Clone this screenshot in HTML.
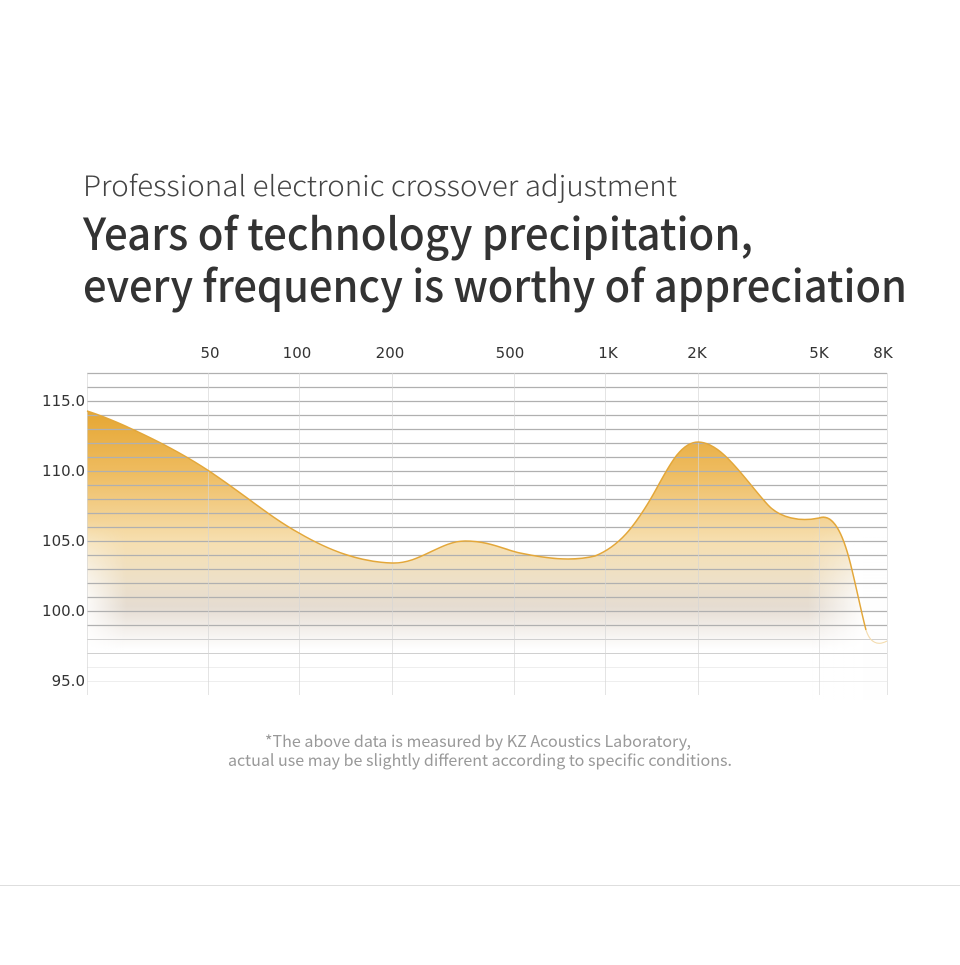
<!DOCTYPE html>
<html><head><meta charset="utf-8"><style>
html,body{margin:0;padding:0;background:#fff;}
body{width:960px;height:960px;overflow:hidden;}
</style></head><body>
<svg width="960" height="960" viewBox="0 0 960 960" xmlns="http://www.w3.org/2000/svg">
<defs>
<linearGradient id="g" gradientUnits="userSpaceOnUse" x1="0" y1="410" x2="0" y2="650">
<stop offset="0" stop-color="#e5a632"/>
<stop offset="0.25" stop-color="#eebb5e"/>
<stop offset="0.55" stop-color="#f6dfb0"/>
<stop offset="0.72" stop-color="#ede0c9"/>
<stop offset="0.82" stop-color="#e5dcd1"/>
<stop offset="0.95" stop-color="#f8f6f4"/>
<stop offset="1" stop-color="#ffffff"/>
</linearGradient>
<linearGradient id="side" gradientUnits="userSpaceOnUse" x1="87" y1="0" x2="887" y2="0">
<stop offset="0" stop-color="#fff" stop-opacity="0.85"/>
<stop offset="0.05" stop-color="#fff" stop-opacity="0"/>
<stop offset="0.9" stop-color="#fff" stop-opacity="0"/>
<stop offset="0.97" stop-color="#fff" stop-opacity="0.9"/>
</linearGradient>
<linearGradient id="vm" gradientUnits="userSpaceOnUse" x1="0" y1="520" x2="0" y2="600">
<stop offset="0" stop-color="#000"/>
<stop offset="1" stop-color="#fff"/>
</linearGradient>
<mask id="m"><rect x="0" y="0" width="960" height="960" fill="url(#vm)"/></mask>
</defs>
<text x="83" y="196" font-family="'Noto Sans CJK SC','Liberation Sans',sans-serif" font-weight="300" font-size="28" fill="#444" textLength="594" lengthAdjust="spacingAndGlyphs">Professional electronic crossover adjustment</text>
<text x="83" y="250" font-family="'Noto Sans CJK SC','Liberation Sans',sans-serif" font-weight="500" font-size="44" fill="#333" textLength="670" lengthAdjust="spacingAndGlyphs">Years of technology precipitation,</text>
<text x="83" y="302" font-family="'Noto Sans CJK SC','Liberation Sans',sans-serif" font-weight="500" font-size="44" fill="#333" textLength="824" lengthAdjust="spacingAndGlyphs">every frequency is worthy of appreciation</text>

<g font-family="'DejaVu Sans','Liberation Sans',sans-serif" font-size="15" fill="#333" text-anchor="middle">
<text x="210" y="358">50</text><text x="297" y="358">100</text><text x="390" y="358">200</text>
<text x="510" y="358">500</text><text x="608" y="358">1K</text><text x="697" y="358">2K</text>
<text x="819" y="358">5K</text><text x="883" y="358">8K</text>
</g>
<g font-family="'DejaVu Sans','Liberation Sans',sans-serif" font-size="15" fill="#333" text-anchor="end">
<text x="85" y="406">115.0</text><text x="85" y="476">110.0</text><text x="85" y="546">105.0</text>
<text x="85" y="616">100.0</text><text x="85" y="686">95.0</text>
</g>

<path d="M87,411 C115,420 170,445 209,471 C245,495 270,517 299,533 C330,551 360,562 392,563 C420,564 440,541 465,541 C490,541 505,550 520,553 C545,558 570,562 595,556 C620,546 635,525 650,500 C665,475 678,442 698,442 C722,442 745,480 768,505 C780,518 800,522 819,518 C835,512 845,540 852,570 C860,605 866,640 876,643 C881,644 885,642 887,640 L887,700 L87,700 Z" fill="url(#g)"/>
<rect x="87" y="400" width="800" height="300" fill="url(#side)" mask="url(#m)"/>

<g stroke="#b0b0b0" stroke-width="1.3">
<line x1="87" y1="373.5" x2="887" y2="373.5"/><line x1="87" y1="387.5" x2="887" y2="387.5"/>
<line x1="87" y1="401.5" x2="887" y2="401.5"/><line x1="87" y1="415.5" x2="887" y2="415.5"/>
<line x1="87" y1="429.5" x2="887" y2="429.5"/><line x1="87" y1="443.5" x2="887" y2="443.5"/>
<line x1="87" y1="457.5" x2="887" y2="457.5"/><line x1="87" y1="471.5" x2="887" y2="471.5"/>
<line x1="87" y1="485.5" x2="887" y2="485.5"/><line x1="87" y1="499.5" x2="887" y2="499.5"/>
<line x1="87" y1="513.5" x2="887" y2="513.5"/><line x1="87" y1="527.5" x2="887" y2="527.5"/>
<line x1="87" y1="541.5" x2="887" y2="541.5"/><line x1="87" y1="555.5" x2="887" y2="555.5"/>
<line x1="87" y1="569.5" x2="887" y2="569.5"/><line x1="87" y1="583.5" x2="887" y2="583.5"/>
<line x1="87" y1="597.5" x2="887" y2="597.5"/><line x1="87" y1="611.5" x2="887" y2="611.5"/>
<line x1="87" y1="625.5" x2="887" y2="625.5"/>
</g>
<g stroke="#d0d0d0" stroke-width="1">
<line x1="87" y1="639.5" x2="887" y2="639.5"/><line x1="87" y1="653.5" x2="887" y2="653.5"/>
</g>
<g stroke="#eeeeee" stroke-width="1">
<line x1="87" y1="667.5" x2="887" y2="667.5"/><line x1="87" y1="681.5" x2="887" y2="681.5"/>
</g>
<g stroke="#d6d6d6" stroke-width="0.8" opacity="0.8">
<line x1="87.5" y1="373" x2="87.5" y2="695"/><line x1="208.5" y1="373" x2="208.5" y2="695"/>
<line x1="299.5" y1="373" x2="299.5" y2="695"/><line x1="392.5" y1="373" x2="392.5" y2="695"/>
<line x1="514.5" y1="373" x2="514.5" y2="695"/><line x1="605.5" y1="373" x2="605.5" y2="695"/>
<line x1="698.5" y1="373" x2="698.5" y2="695"/><line x1="819.5" y1="373" x2="819.5" y2="695"/>
<line x1="887.5" y1="373" x2="887.5" y2="695"/>
</g>
<path d="M87,411 C115,420 170,445 209,471 C245,495 270,517 299,533 C330,551 360,562 392,563 C420,564 440,541 465,541 C490,541 505,550 520,553 C545,558 570,562 595,556 C620,546 635,525 650,500 C665,475 678,442 698,442 C722,442 745,480 768,505 C780,518 800,522 819,518 C835,512 845,540 852,570 C858,595 862,615 866,630" fill="none" stroke="#e3a73a" stroke-width="1.5"/>
<path d="M866,630 C870,643 878,646 887,641" fill="none" stroke="#f3dcb0" stroke-width="1.2"/>

<g font-family="'Noto Sans CJK SC','Liberation Sans',sans-serif" font-size="16" fill="#999" text-anchor="middle">
<text x="478" y="747" textLength="426" lengthAdjust="spacingAndGlyphs">*The above data is measured by KZ Acoustics Laboratory,</text>
<text x="480" y="766" textLength="504" lengthAdjust="spacingAndGlyphs">actual use may be slightly different according to specific conditions.</text>
</g>
<line x1="0" y1="885.5" x2="960" y2="885.5" stroke="#dedede" stroke-width="1"/>
</svg>
</body></html>
